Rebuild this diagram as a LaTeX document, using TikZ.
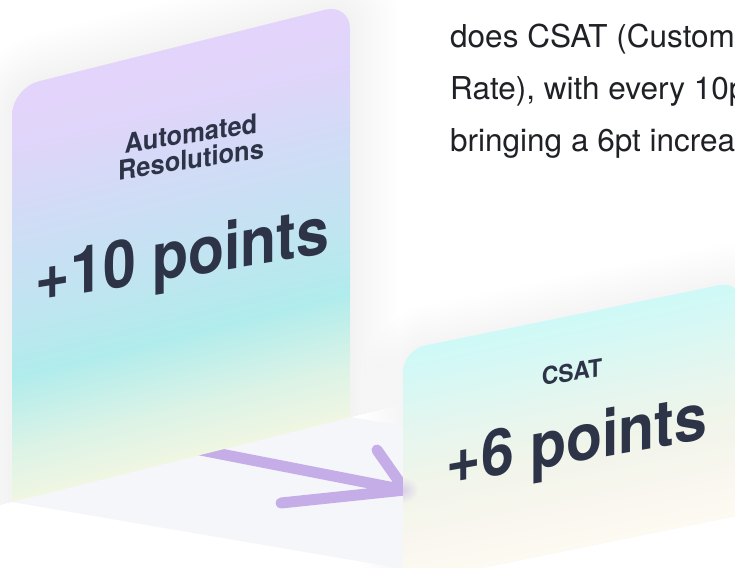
\documentclass[tikz,border=0pt]{standalone}
\usepackage{fontspec}
\setmainfont{TeX Gyre Heros}
\usetikzlibrary{fadings}
\tikzfading[name=softdot, inner color=transparent!0, outer color=transparent!100]
\definecolor{ink}{HTML}{2E3448}
\definecolor{para}{HTML}{1F2126}
\definecolor{arrowc}{HTML}{C5AEE8}
\definecolor{floorc}{HTML}{F5F6F9}
\definecolor{aA}{HTML}{F0F6E2}
\definecolor{aB}{HTML}{DCF3E6}
\definecolor{aC}{HTML}{B1ECEC}
\definecolor{aD}{HTML}{C3E3F2}
\definecolor{aE}{HTML}{D2DBF6}
\definecolor{aF}{HTML}{E0D5FA}
\definecolor{aG}{HTML}{E3D4FB}
\definecolor{bA}{HTML}{FDFAF2}
\definecolor{bB}{HTML}{F8F6EE}
\definecolor{bC}{HTML}{F0F5EA}
\definecolor{bD}{HTML}{E4F6EF}
\definecolor{bE}{HTML}{D6F8F4}
\definecolor{bF}{HTML}{CEF9F7}
\pgfdeclareverticalshading{cardAshade}{100bp}{color(0bp)=(aA); color(25bp)=(aA); color(31bp)=(aB); color(40bp)=(aC); color(50bp)=(aD); color(60bp)=(aE); color(68bp)=(aF); color(75bp)=(aG); color(100bp)=(aG)}
\pgfdeclareverticalshading{cardBshade}{100bp}{color(0bp)=(bA); color(25bp)=(bA); color(35bp)=(bB); color(47bp)=(bC); color(58bp)=(bD); color(68bp)=(bE); color(75bp)=(bF); color(100bp)=(bF)}
\begin{document}
\begin{tikzpicture}[x=1pt,y=1pt,
  cardtext/.style={text=ink, font=\bfseries, anchor=base, transform shape, inner sep=0pt},
  paratext/.style={text=para, anchor=base west, inner sep=0pt, font=\fontsize{31.5}{36}\selectfont},
  arrowline/.style={draw=arrowc, line width=11pt, line cap=round, line join=round},
  glow/.style={fill=black, opacity=0.004}]
\useasboundingbox (0,0) rectangle (735,567);
\fill[white] (0,0) rectangle (735,567);

% soft shadows
\begin{scope}[transform canvas={yslant=0.25}]
  \foreach \r in {4,8,...,48} {
    \pgfmathsetmacro{\rr}{27+\r}
    \fill[glow] (12-\r,62) [rounded corners=\rr pt] -- (12-\r,476+\r) -- (350+\r,476+\r) [sharp corners] -- (350+\r,62) -- cycle;
  }
\end{scope}
\begin{scope}[transform canvas={yslant=0.205}]
  \foreach \r in {4,8,...,40} {
    \pgfmathsetmacro{\rr}{22+\r}
    \fill[glow] (403-\r,-100) [rounded corners=\rr pt] -- (403-\r,134.4+\r) -- (740+\r,134.4+\r) [sharp corners] -- (740+\r,-100) -- cycle;
  }
\end{scope}

% floor
\fill[floorc] (12,65) -- (350,150) -- (760,80) -- (422,-5) -- cycle;

% arrow on the floor
\coordinate (as) at (190,119);
\coordinate (at) at (405,77);
\coordinate (ub) at (377,117);
\coordinate (lb) at (281,64);
\draw[arrowline] (as) -- (at) (ub) -- (at) (lb) -- (at);

% card A
\begin{scope}[transform canvas={yslant=0.25}]
  \shade[shading=cardAshade] (12,62) -- (12,449) arc[start angle=180, end angle=90, radius=27] -- (325,476) arc[start angle=90, end angle=0, radius=25] -- (350,62) -- cycle;
\end{scope}

% card B
\begin{scope}[transform canvas={yslant=0.205}]
  \shade[shading=cardBshade] (403,-100) -- (403,112.4) arc[start angle=180, end angle=90, radius=22] -- (720,134.4) arc[start angle=90, end angle=0, radius=20] -- (740,-100) -- cycle;
\end{scope}
\begin{scope}
  \clip (403,55) rectangle (430,100);
  \fill[arrowc, opacity=0.55, path fading=softdot] (402,77) ellipse (16 and 13);
\end{scope}

% texts on card A
\begin{scope}[shift={(191,398)}, yslant=0.152, yscale=1.06]
  \node[cardtext, align=center, font=\bfseries\fontsize{25.5}{24.5}\selectfont] (autores) at (0,0) {Automated\\Resolutions};
\end{scope}
\begin{scope}[shift={(182.5,290)}, yslant=0.165, yscale=1.12]
  \node[cardtext, font=\bfseries\fontsize{59}{64}\selectfont] (ten) at (0,0) {+10 points};
\end{scope}

% texts on card B
\begin{scope}[shift={(572,186)}, yslant=0.16, yscale=1.06]
  \node[cardtext, font=\bfseries\fontsize{23}{25}\selectfont] (csat) at (0,0) {CSAT};
\end{scope}
\begin{scope}[shift={(577,105)}, yslant=0.176, yscale=1.1]
  \node[cardtext, font=\bfseries\fontsize{59}{64}\selectfont] (six) at (0,0) {+6 points};
\end{scope}

% paragraph
\node[paratext] (l1) at (450,519) {does CSAT (Custom};
\node[paratext] (l2) at (450,467) {Rate), with every 10p};
\node[paratext] (l3) at (450,415) {bringing a 6pt increa};
\end{tikzpicture}
\end{document}
